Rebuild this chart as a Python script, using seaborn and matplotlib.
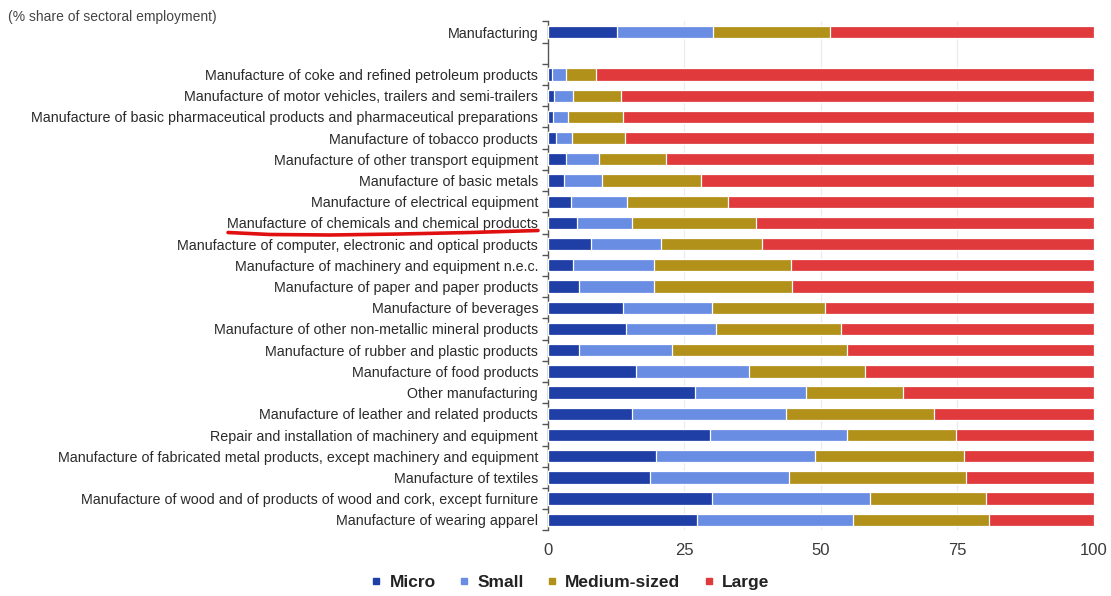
import numpy as np
import pandas as pd
import matplotlib
matplotlib.use("Agg")
import matplotlib.pyplot as plt
from matplotlib.lines import Line2D
import seaborn as sns

sectors = [
    "Manufacturing",
    " ",
    "Manufacture of coke and refined petroleum products",
    "Manufacture of motor vehicles, trailers and semi-trailers",
    "Manufacture of basic pharmaceutical products and pharmaceutical preparations",
    "Manufacture of tobacco products",
    "Manufacture of other transport equipment",
    "Manufacture of basic metals",
    "Manufacture of electrical equipment",
    "Manufacture of chemicals and chemical products",
    "Manufacture of computer, electronic and optical products",
    "Manufacture of machinery and equipment n.e.c.",
    "Manufacture of paper and paper products",
    "Manufacture of beverages",
    "Manufacture of other non-metallic mineral products",
    "Manufacture of rubber and plastic products",
    "Manufacture of food products",
    "Other manufacturing",
    "Manufacture of leather and related products",
    "Repair and installation of machinery and equipment",
    "Manufacture of fabricated metal products, except machinery and equipment",
    "Manufacture of textiles",
    "Manufacture of wood and of products of wood and cork, except furniture",
    "Manufacture of wearing apparel",
]

# share of sectoral employment by enterprise size class (%)
micro = [12.6, np.nan, 0.7, 1.2, 1.0, 1.4, 3.3, 2.9, 4.3, 5.4, 7.9, 4.6, 5.7,
         13.8, 14.3, 5.7, 16.1, 26.9, 15.4, 29.7, 19.8, 18.6, 30.0, 27.3]
small = [17.6, np.nan, 2.6, 3.4, 2.7, 3.0, 6.0, 7.0, 10.1, 10.0, 12.8, 14.8, 13.7,
         16.2, 16.5, 17.1, 20.7, 20.4, 28.2, 25.1, 29.1, 25.6, 29.0, 28.6]
medium = [21.5, np.nan, 5.5, 8.7, 10.0, 9.7, 12.3, 18.1, 18.6, 22.7, 18.5, 25.1, 25.3,
          20.8, 22.8, 31.9, 21.3, 17.8, 27.1, 19.9, 27.3, 32.3, 21.3, 24.9]
large = [48.3, np.nan, 91.2, 86.7, 86.3, 85.9, 78.4, 72.0, 67.0, 61.9, 60.8, 55.5, 55.3,
         49.2, 46.4, 45.3, 41.9, 34.9, 29.3, 25.3, 23.8, 23.5, 19.7, 19.2]

size_classes = ["Micro", "Small", "Medium-sized", "Large"]
colors = ["#1f3fa6", "#6a8de4", "#b2911a", "#e03a3c"]

df = pd.DataFrame({"sector": sectors, "Micro": micro, "Small": small,
                   "Medium-sized": medium, "Large": large})
cum = df[size_classes].cumsum(axis=1)

sns.set_theme(style="white")
plt.rcParams["font.family"] = ["Liberation Sans", "DejaVu Sans"]

fig = plt.figure(figsize=(11.11, 5.96), dpi=100)
ax = fig.add_axes([0.4932, 0.110, 0.4915, 0.854])

# stacked bars: draw cumulative totals from the outermost class inwards
for cls, col in reversed(list(zip(size_classes, colors))):
    sns.barplot(x=cum[cls], y=df["sector"], order=sectors, orient="h",
                color=col, width=0.58, edgecolor="white", linewidth=0.9,
                saturation=1, ax=ax, zorder=3)

ax.set_xlim(0, 100)
ax.set_ylim(len(sectors) - 0.5, -0.5)
ax.set_xticks([0, 25, 50, 75, 100])
ax.set_xticklabels(["0", "25", "50", "75", "100"])
ax.set_xlabel("")
ax.set_ylabel("")
ax.grid(axis="x", color="#ebebeb", linewidth=0.8, zorder=0)
ax.set_axisbelow(True)

for side in ["top", "right", "bottom"]:
    ax.spines[side].set_visible(False)
ax.spines["left"].set_color("#555555")
ax.spines["left"].set_linewidth(1.0)

ax.tick_params(axis="y", which="major", length=0, pad=7, labelsize=10.3,
               labelcolor="#2a2a2a")
ax.tick_params(axis="x", which="major", length=0, pad=9, labelsize=12,
               labelcolor="#3a3a3a")
ax.set_yticks(np.arange(-0.5, len(sectors), 1.0), minor=True)
ax.tick_params(axis="y", which="minor", length=4, width=1.0, color="#555555",
               direction="out", left=True)

fig.text(0.007, 0.972, "(% share of sectoral employment)", fontsize=10,
         color="#444444", ha="left", va="center")

handles = [Line2D([], [], marker="s", linestyle="none", markersize=5,
                  markerfacecolor=c, markeredgecolor=c) for c in colors]
fig.legend(handles, size_classes, loc="center", bbox_to_anchor=(0.513, 0.022),
           ncol=4, frameon=False, handlelength=0.7, handletextpad=0.4,
           columnspacing=1.3, prop={"weight": "bold", "size": 12.5},
           labelcolor="#222222")

# hand-drawn highlight under the chemicals label
ux = np.array([228, 270, 330, 400, 470, 538]) / 1111
uy = 1 - np.array([232.5, 234.5, 235.0, 234.0, 232.5, 230.5]) / 596
fig.add_artist(Line2D(ux, uy, color="#e01010", linewidth=2.6,
                      solid_capstyle="round", transform=fig.transFigure))

fig.savefig("out.png", dpi=100, facecolor="white")
